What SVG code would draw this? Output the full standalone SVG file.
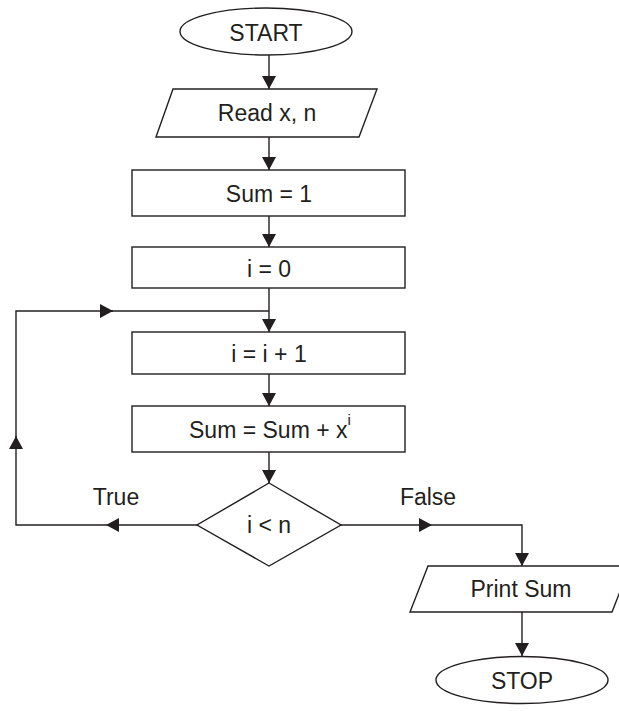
<svg xmlns="http://www.w3.org/2000/svg" width="619" height="711" viewBox="0 0 619 711">
<defs>
<style>
.shape{fill:#ffffff;stroke:#231f20;stroke-width:1.4}
.conn{fill:none;stroke:#231f20;stroke-width:1.4}
.lbl{font-family:"Liberation Sans",Arial,sans-serif;font-size:23px;fill:#231f20;text-anchor:middle}
</style>
<marker id="ah" markerUnits="userSpaceOnUse" markerWidth="13" markerHeight="14" viewBox="0 0 13 14" refX="13" refY="7" orient="auto">
<path d="M0,0 L13,7 L0,14 Z" fill="#231f20"/>
</marker>
</defs>
<rect width="619" height="711" fill="#ffffff"/>
<g id="connectors">
<line class="conn" x1="269" y1="55" x2="269" y2="89" marker-end="url(#ah)"/>
<line class="conn" x1="269" y1="137" x2="269" y2="170" marker-end="url(#ah)"/>
<line class="conn" x1="269" y1="216" x2="269" y2="247" marker-end="url(#ah)"/>
<line class="conn" x1="269" y1="288" x2="269" y2="332" marker-end="url(#ah)"/>
<line class="conn" x1="269" y1="374" x2="269" y2="406" marker-end="url(#ah)"/>
<line class="conn" x1="269" y1="452" x2="269" y2="483" marker-end="url(#ah)"/>
<line class="conn" x1="197" y1="525" x2="106" y2="525" marker-end="url(#ah)"/>
<path class="conn" d="M106,525 H16 V436"/>
<line class="conn" x1="16" y1="449" x2="16" y2="436" marker-end="url(#ah)"/>
<path class="conn" d="M16,436 V311 H113"/>
<line class="conn" x1="100" y1="311" x2="113" y2="311" marker-end="url(#ah)"/>
<line class="conn" x1="113" y1="311" x2="269" y2="311"/>
<line class="conn" x1="341" y1="525" x2="432" y2="525" marker-end="url(#ah)"/>
<path class="conn" d="M432,525 H522 V566" marker-end="url(#ah)"/>
<line class="conn" x1="522" y1="612" x2="522" y2="656" marker-end="url(#ah)"/>
<text class="lbl" x="116" y="505">True</text>
<text class="lbl" x="428" y="505">False</text>
</g>
<g id="start">
<ellipse class="shape" cx="266" cy="31.5" rx="86" ry="23.5"/>
<text class="lbl" x="266" y="41">START</text>
</g>
<g id="read">
<polygon class="shape" points="173,89 377,89 359,137 156,137"/>
<text class="lbl" x="267" y="121">Read x, n</text>
</g>
<g id="sum1">
<rect class="shape" x="132" y="170" width="273" height="46"/>
<text class="lbl" x="269" y="202">Sum = 1</text>
</g>
<g id="i0">
<rect class="shape" x="132" y="247" width="273" height="41"/>
<text class="lbl" x="269" y="277">i = 0</text>
</g>
<g id="inc">
<rect class="shape" x="132" y="332" width="273" height="42"/>
<text class="lbl" x="269" y="362">i = i + 1</text>
</g>
<g id="accum">
<rect class="shape" x="132" y="406" width="273" height="46"/>
<text class="lbl" x="189" y="438" style="text-anchor:start">Sum = Sum + x<tspan dy="-13" font-size="15">i</tspan></text>
</g>
<g id="decision">
<polygon class="shape" points="269,483 341,525 269,566 197,525"/>
<text class="lbl" x="269" y="533">i &lt; n</text>
</g>
<g id="print">
<polygon class="shape" points="428,566 630,566 612,612 410,612"/>
<text class="lbl" x="521" y="597">Print Sum</text>
</g>
<g id="stop">
<ellipse class="shape" cx="522" cy="680" rx="86" ry="23.5"/>
<text class="lbl" x="522" y="689">STOP</text>
</g>
</svg>
